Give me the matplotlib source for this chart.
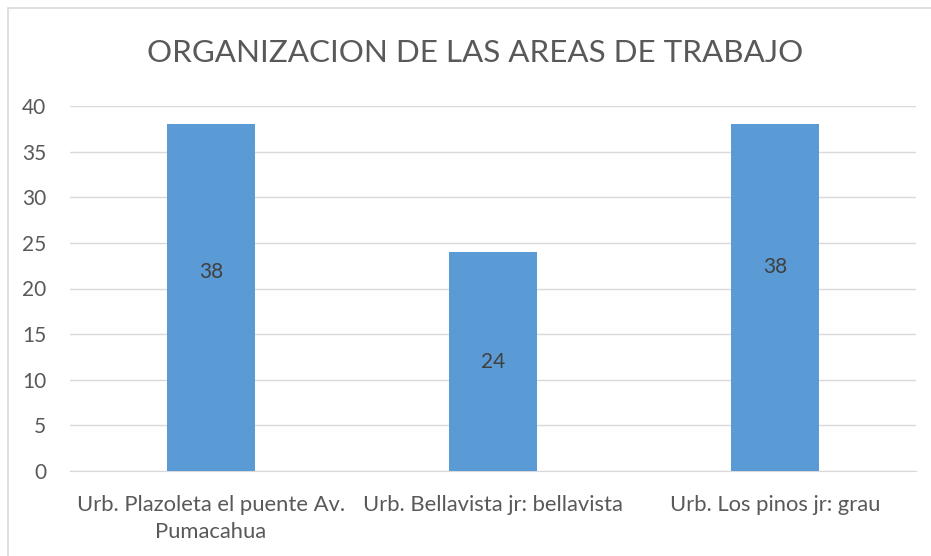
import matplotlib
matplotlib.use("Agg")
import matplotlib.pyplot as plt
from matplotlib.patches import Rectangle

categories = ["Urb. Plazoleta el puente Av.\nPumacahua", "Urb. Bellavista jr: bellavista", "Urb. Los pinos jr: grau"]
values = [38, 24, 38]
label_y = [21.8, 12, 22.4]
yticks = [0, 5, 10, 15, 20, 25, 30, 35, 40]
title = "ORGANIZACION DE LAS AREAS DE TRABAJO"

plt.rcParams['font.family'] = ['Lato', 'DejaVu Sans']
txt = '#595959'
fig = plt.figure(figsize=(9.31, 5.56), dpi=100)
ax = fig.add_axes([70/931, 1-471/556, 846/931, 365/556])
x = list(range(len(categories)))
ax.bar(x, values, width=0.315, color='#5B9BD5', zorder=3)
for xi, v, ly in zip(x, values, label_y):
    ax.text(xi, ly, str(v), ha='center', va='center', fontsize=15, color='#404040', zorder=4)
ax.set_xlim(-0.5, len(categories) - 0.5)
ax.set_ylim(0, 40)
ax.set_yticks(yticks)
ax.set_yticklabels([str(t) for t in yticks])
ax.set_xticks(x)
ax.set_xticklabels(categories, fontsize=15.8, color=txt, linespacing=1.45)
ax.tick_params(axis='y', labelsize=15, labelcolor=txt, length=0, pad=17)
ax.tick_params(axis='x', length=0, pad=17)
ax.grid(axis='y', color='#D9D9D9', linewidth=1, zorder=0)
for s in ['top', 'right', 'left']:
    ax.spines[s].set_visible(False)
ax.spines['bottom'].set_color('#D9D9D9')
ax.spines['bottom'].set_zorder(0)
fig.text(475.5/931, 1-53/556, title, ha='center', va='center', fontsize=22.6, color=txt)
fig.patches.append(Rectangle((8/931, -0.1), 1.2, 1-8/556+0.1, transform=fig.transFigure,
                             fill=False, edgecolor='#D9D9D9', linewidth=1.2))
fig.savefig('out.png', dpi=100)
